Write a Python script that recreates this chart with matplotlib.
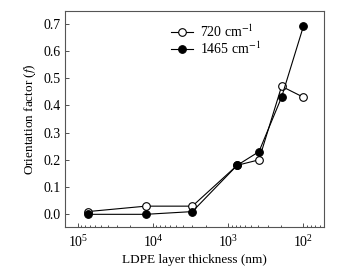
import numpy as np
import matplotlib
matplotlib.use("Agg")
import matplotlib.pyplot as plt
from matplotlib.ticker import LogLocator, NullFormatter

plt.rcParams['font.family'] = ['Liberation Serif', 'DejaVu Serif']
plt.rcParams['mathtext.fontset'] = 'stix'

# layer thickness (nm) and orientation factors
thickness = [74000, 12500, 3000, 760, 390, 195, 100]
f_720 = [0.01, 0.03, 0.03, 0.18, 0.20, 0.47, 0.43]
f_1465 = [0.00, 0.00, 0.01, 0.18, 0.23, 0.43, 0.69]
y_ticks = [0.0, 0.1, 0.2, 0.3, 0.4, 0.5, 0.6, 0.7]

fig = plt.figure(figsize=(3.5, 2.72), dpi=100)
ax = fig.add_axes([0.186, 0.165, 0.74, 0.795])

ax.plot(thickness, f_720, '-o', color='black', mfc='white', mec='black',
        ms=5.5, lw=0.8, mew=0.8, label=r'720 cm$^{-1}$', zorder=3)
ax.plot(thickness, f_1465, '-o', color='black', mfc='black', mec='black',
        ms=5.5, lw=0.8, mew=0.8, label=r'1465 cm$^{-1}$', zorder=4)

ax.set_xscale('log')
ax.set_xlim(1.48e5, 53)
ax.set_ylim(-0.047, 0.747)
ax.set_yticks(y_ticks)
ax.set_yticklabels([f'{v:.1f}' for v in y_ticks])
ax.xaxis.set_major_locator(LogLocator(base=10))
ax.xaxis.set_minor_locator(LogLocator(base=10, subs=np.arange(2, 10)))
ax.xaxis.set_minor_formatter(NullFormatter())

ax.tick_params(which='both', direction='in', labelsize=10, width=0.6, color='#333333')
ax.tick_params(which='major', length=3)
ax.tick_params(which='minor', length=1.8)
ax.tick_params(axis='x', pad=5)
ax.tick_params(axis='y', pad=3)
for s in ax.spines.values():
    s.set_color('#555555')
    s.set_linewidth(0.8)

ax.set_xlabel('LDPE layer thickness (nm)', fontsize=9.5, labelpad=3)
ax.set_ylabel(r'Orientation factor ($\it{f}$)', fontsize=9.5, labelpad=4)

ax.legend(loc='upper left', bbox_to_anchor=(0.36, 1.0), frameon=False,
          fontsize=10, handlelength=1.6, handletextpad=0.5, labelspacing=0.05)

fig.savefig('out.png', dpi=100)
